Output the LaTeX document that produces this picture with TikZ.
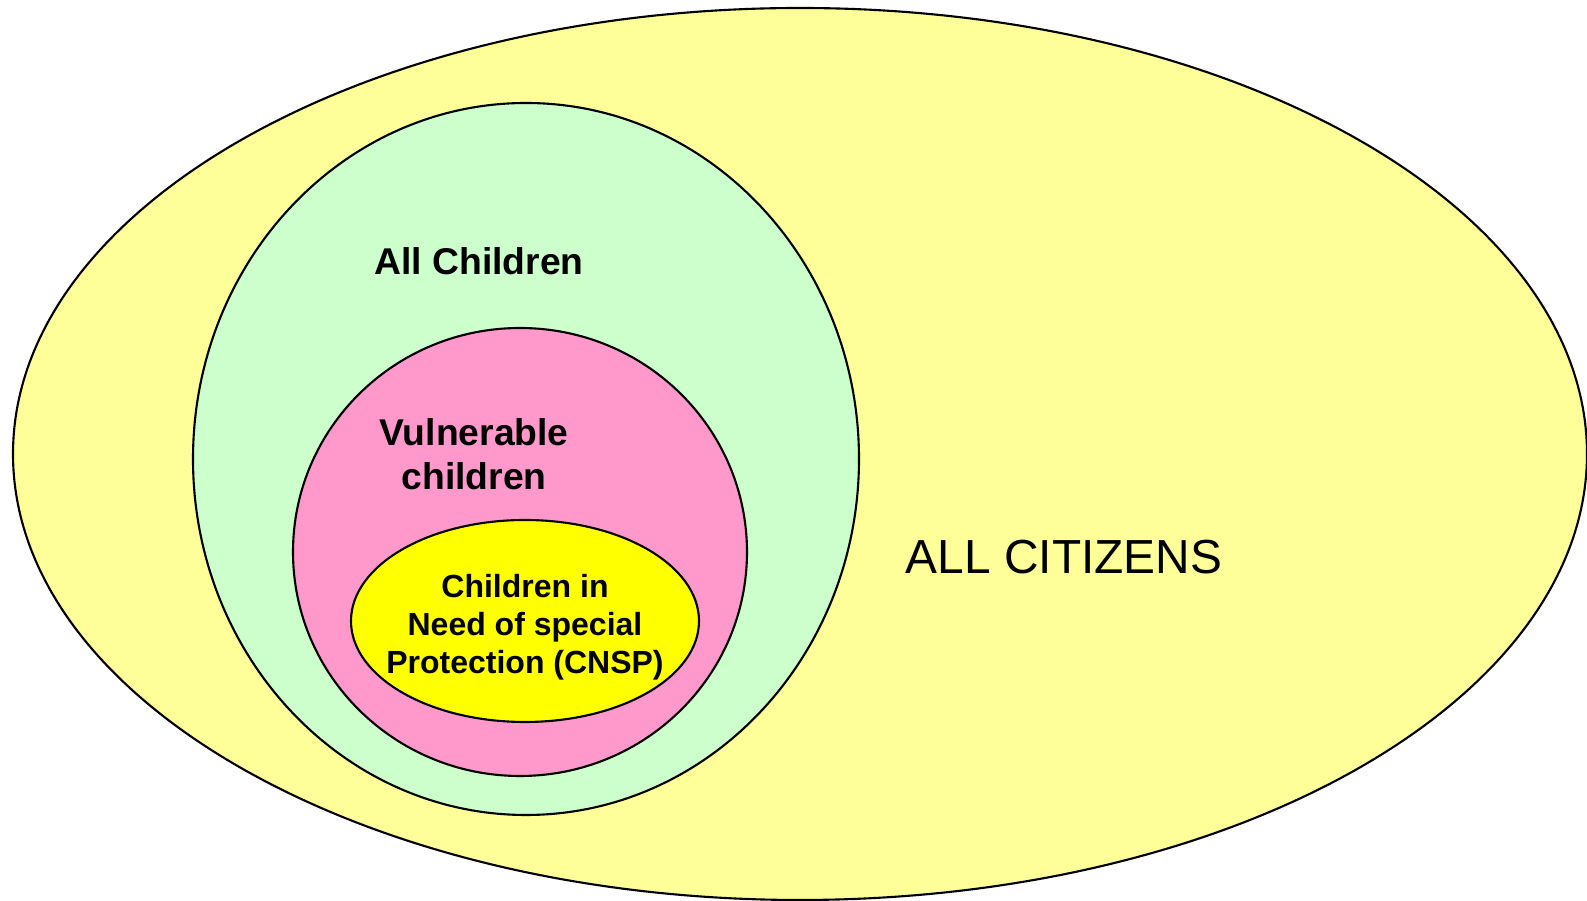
\documentclass[tikz,border=0pt]{standalone}
\usepackage{fontspec}
\setmainfont{Liberation Sans}
\definecolor{citizenfill}{HTML}{FFFF99}
\definecolor{childfill}{HTML}{CCFFCC}
\definecolor{vulnfill}{HTML}{FF99CC}
\definecolor{cnspfill}{HTML}{FFFF00}
\begin{document}
\begin{tikzpicture}[x=0.01cm,y=-0.01cm,
    set/.style={draw=black,line width=0.6pt},
    setlabel/.style={font=\bfseries\fontsize{10.6}{12.5}\selectfont,align=center,inner sep=0pt}]
    \useasboundingbox (0,0) rectangle (1587,901);

    % Nested sets
    \filldraw[set,fill=citizenfill] (800,454) ellipse [x radius=787,y radius=446];
    \filldraw[set,fill=childfill] (526,459) ellipse [x radius=333,y radius=356];
    \filldraw[set,fill=vulnfill] (520,552) ellipse [x radius=227,y radius=224];
    \filldraw[set,fill=cnspfill] (525,621) ellipse [x radius=174,y radius=101];

    % Labels
    \node[setlabel] (children) at (479,261) {All Children};
    \node[setlabel] (vulnerable) at (474,454) {Vulnerable\\children};
    \node[setlabel,font=\bfseries\fontsize{9.1}{10.8}\selectfont] (cnsp) at (525,627)
      {Children in\\Need of special\\Protection (CNSP)};
    \node[font=\fontsize{13.6}{16}\selectfont,inner sep=0pt] (citizens) at (1064,557) {ALL CITIZENS};
\end{tikzpicture}
\end{document}
